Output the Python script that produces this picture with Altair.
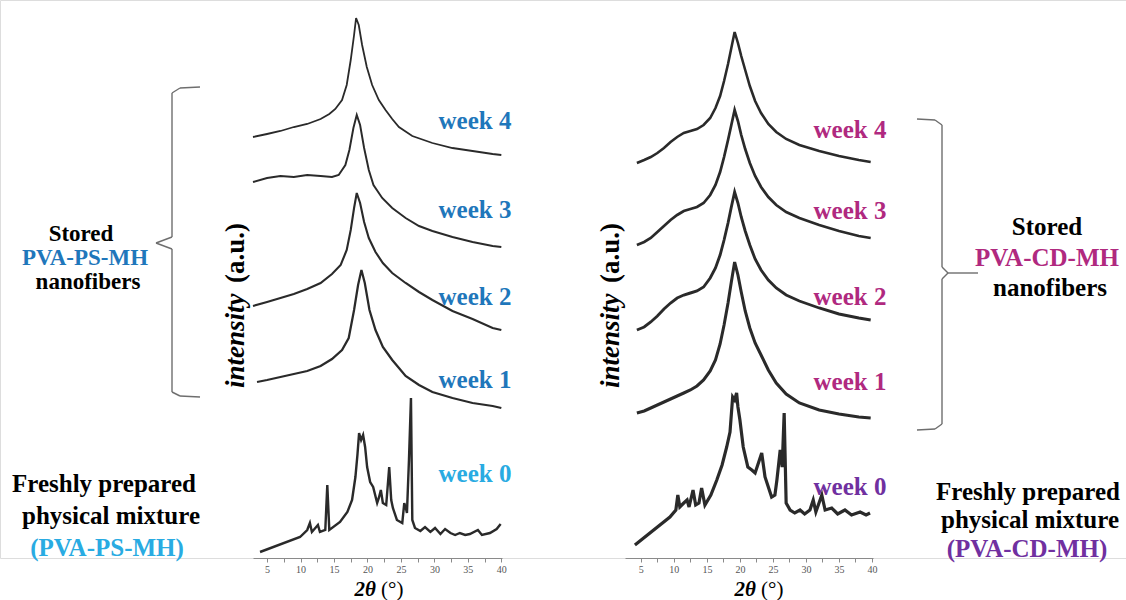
import altair as alt
import pandas as pd

SERIF = "Liberation Serif"

# ---------------- data (2theta in degrees, stacked intensity in a.u.) ----------------
PS4_T = [2.9, 5, 7, 9, 11, 13, 14.3, 15.2, 16.2, 16.9, 17.5, 18.0, 18.3, 18.7, 19.2, 19.9, 20.7, 21.7, 22.7, 23.7, 24.7, 26.7, 29.7, 32.7, 35.7, 38.7, 40]
PS4_V = [421, 424, 427, 431, 434, 439, 444, 449, 458, 473, 498, 523, 540, 533, 513, 491, 473, 458, 448, 439, 431, 422, 415, 410, 407, 404, 403]

PS3_T = [2.9, 5, 7, 9, 11, 13, 14.7, 15.7, 16.7, 17.3, 17.9, 18.4, 18.9, 19.5, 20.2, 20.9, 22.2, 23.7, 25.7, 27.7, 29.7, 32.7, 35.7, 38.7, 40]
PS3_V = [376, 380, 382, 381, 383, 382, 381, 383, 393, 408, 430, 443, 433, 410, 388, 373, 360, 350, 340, 332, 327, 321, 316, 312, 311]

PS2_T = [2.9, 5, 7, 9, 11, 13, 14.7, 16, 16.9, 17.5, 18.0, 18.4, 18.9, 19.5, 20.2, 21.2, 22.3, 23.7, 25.7, 27.7, 29.7, 32.7, 35.7, 38.7, 40]
PS2_V = [252, 256, 260, 264, 269, 275, 284, 293, 308, 328, 350, 365, 355, 336, 320, 306, 295, 285, 275, 266, 258, 247, 239, 230, 228]

PS1_T = [3.5, 5, 7, 9, 11, 13, 14.7, 16.2, 17.2, 18.0, 18.6, 19.1, 19.6, 20.3, 21.2, 22.3, 23.7, 25.7, 27.7, 29.7, 32.7, 35.7, 38.7, 40]
PS1_V = [176, 178, 181, 184, 187, 192, 199, 208, 220, 248, 273, 288, 275, 248, 228, 211, 198, 182, 173, 166, 160, 155, 152, 150]

PS0_T = [3.95, 9.93, 11.0, 11.4, 11.7, 12.6, 12.9, 13.7, 14.0, 14.3, 15.9, 17.0, 17.7, 18.2, 18.5, 18.75, 19.05, 19.35, 19.65, 19.95,
         20.4, 20.85, 21.45, 21.7, 22.0, 22.3, 22.8, 23.25, 23.55, 23.8, 24.4, 25.2, 25.5, 25.8, 25.9, 26.2, 26.5, 26.7, 27.1,
         27.9, 28.6, 29.4, 30.1, 30.9, 31.6, 32.4, 33.1, 33.8, 34.6, 35.3, 36.5, 37.1, 38.3, 39.3, 39.9]
PS0_V = [6, 21, 28, 35, 26, 33, 26, 28, 73, 28, 36, 46, 58, 81, 103, 125, 118, 123, 111, 91,
         76, 71, 55, 60, 68, 55, 53, 91, 58, 50, 38, 35, 55, 48, 45, 98, 160, 38, 30,
         27, 31, 26, 30, 24, 29, 25, 23, 25, 23, 24, 28, 23, 25, 29, 34]

CD_T = [4.4, 5.5, 6.5, 7.5, 8.5, 9.5, 10.5, 11.5, 12.5, 13.5, 14.5, 15.5, 16.3, 17.0, 17.6, 18.2, 18.7, 19.2,
        19.7, 20.2, 20.8, 21.5, 22.3, 23.2, 24.3, 25.5, 27, 29, 32, 35, 38, 39.8]
CD4_V = [395, 398, 401, 405, 410, 416, 421, 425, 427, 429, 433, 440, 450, 462, 477, 494, 510, 526,
         515, 502, 488, 472, 457, 445, 434, 426, 419, 413, 407, 402, 398, 396]
CD3_V = [313, 316, 320, 326, 332, 338, 343, 347, 349, 351, 355, 363, 373, 386, 401, 418, 433, 448,
         437, 423, 409, 395, 382, 371, 361, 353, 346, 340, 333, 327, 322, 320]
CD2_V = [228, 231, 236, 242, 249, 255, 260, 263, 265, 267, 271, 280, 290, 303, 318, 335, 351, 366,
         355, 341, 327, 313, 299, 288, 278, 270, 263, 257, 250, 244, 240, 238]
CD1_V = [145, 147, 150, 153, 156, 159, 162, 165, 168, 172, 178, 187, 198, 214, 233, 255, 276, 296,
         283, 266, 247, 230, 215, 203, 188, 175, 164, 155, 148, 144, 141, 140]

CD0_T = [4.1, 9.4, 10.3, 10.6, 10.9, 11.5, 12.0, 12.3, 12.9, 13.3, 13.8, 14.2, 14.7, 15.6, 16.5, 17.3, 18.0, 18.5, 18.9, 19.2,
         19.5, 19.7, 20.0, 20.5, 21.2, 21.8, 22.3, 23.3, 23.8, 24.8, 25.3, 25.6, 26.1, 26.4, 26.7, 27.0, 27.6, 28.3, 29.1,
         29.8, 30.6, 31.1, 31.5, 32.4, 32.9, 33.9, 34.8, 35.9, 36.9, 38.2, 39.1, 39.7]
CD0_V = [13, 41, 48, 63, 51, 55, 58, 51, 68, 53, 55, 70, 53, 63, 78, 93, 111, 126, 161, 158,
         165, 151, 138, 111, 91, 88, 85, 105, 81, 61, 63, 78, 108, 91, 145, 55, 48, 45, 48,
         44, 48, 58, 46, 63, 48, 50, 44, 48, 43, 46, 43, 45]

PS_CURVES = {"PS week 4": (PS4_T, PS4_V), "PS week 3": (PS3_T, PS3_V), "PS week 2": (PS2_T, PS2_V),
             "PS week 1": (PS1_T, PS1_V), "PS week 0": (PS0_T, PS0_V)}
CD_CURVES = {"CD week 4": (CD_T, CD4_V), "CD week 3": (CD_T, CD3_V), "CD week 2": (CD_T, CD2_V),
             "CD week 1": (CD_T, CD1_V), "CD week 0": (CD0_T, CD0_V)}

TICKS = [5, 7.5, 10, 12.5, 15, 17.5, 20, 22.5, 25, 27.5, 30, 32.5, 35, 37.5, 40]


def to_df(curves):
    rows = []
    for name, (t, v) in curves.items():
        for a, b in zip(t, v):
            rows.append({"series": name, "theta": a, "intensity": b})
    return pd.DataFrame(rows)


ps_df = to_df(PS_CURVES)
cd_df = to_df(CD_CURVES)

# ---------------- styles ----------------
BLUE = "#1f77bb"
CYAN = "#29abe2"
MAGENTA = "#b0297f"
PURPLE = "#7030a0"
LINE = "#2a2a2a"

series_order = list(PS_CURVES) + list(CD_CURVES)
width_range = [1.8, 3.2, 1.8, 1.8, 1.2, 1.6, 1.6, 1.6, 1.6, 1.3]
sw_scale = alt.Scale(domain=series_order, range=width_range)

yscale = alt.Scale(domain=[0, 558], nice=False, zero=False)


def x_axis():
    return alt.Axis(orient="bottom", values=TICKS, labelExpr="datum.value % 5 === 0 ? datum.label : ''",
                    grid=False, domainColor="#8a8a8a", tickColor="#8a8a8a", tickSize=4, title=None,
                    labelFont=SERIF, labelFontSize=10, labelColor="#555555", labelPadding=2, labelFlush=False)


def panel(df, dom, rng):
    return alt.Chart(df).mark_line(color=LINE).encode(
        x=alt.X("theta:Q", scale=alt.Scale(domain=dom, range=rng, nice=False, zero=False), axis=x_axis()),
        y=alt.Y("intensity:Q", scale=yscale, axis=None),
        detail="series:N",
        strokeWidth=alt.StrokeWidth("series:N", scale=sw_scale, legend=None),
    )


left = panel(ps_df, [2.9, 40.1], [253, 502])
right = panel(cd_df, [2.6, 40.15], [625, 873])

one = pd.DataFrame({"k": [0]})


def txt(s, x, y, color="black", size=25, style="normal", weight="bold", angle=0, align="center"):
    return alt.Chart(one).mark_text(text=s, font=SERIF, fontSize=size, fontWeight=weight, fontStyle=style,
                                    color=color, angle=angle, align=align, baseline="middle").encode(
        x=alt.value(x), y=alt.value(y))


def seg(x1, y1, x2, y2):
    return alt.Chart(one).mark_rule(color="#6e6e6e", strokeWidth=1.4).encode(
        x=alt.value(x1), y=alt.value(y1), x2=alt.value(x2), y2=alt.value(y2))


annotations = [
    # week labels, left
    txt("week 4", 475, 121, BLUE), txt("week 3", 475, 210, BLUE), txt("week 2", 475, 297, BLUE),
    txt("week 1", 475, 380, BLUE), txt("week 0", 475, 474, CYAN),
    # week labels, right
    txt("week 4", 850, 130, MAGENTA), txt("week 3", 850, 211, MAGENTA), txt("week 2", 850, 297, MAGENTA),
    txt("week 1", 850, 382, MAGENTA), txt("week 0", 850, 487, PURPLE),
    # left side descriptions
    txt("Stored", 81, 234, size=23), txt("PVA-PS-MH", 85, 258, BLUE, size=23), txt("nanofibers", 88, 282, size=23),
    txt("Freshly prepared", 104, 484), txt("physical mixture", 111, 516), txt("(PVA-PS-MH)", 107, 548, CYAN),
    # right side descriptions
    txt("Stored", 1047, 227), txt("PVA-CD-MH", 1047, 258, MAGENTA), txt("nanofibers", 1050, 288),
    txt("Freshly prepared", 1028, 492), txt("physical mixture", 1030, 520), txt("(PVA-CD-MH)", 1027, 549, PURPLE),
    # y titles (rotated)
    txt("intensity", 236, 388, size=27, style="italic", angle=270, align="left"),
    txt("(a.u.)", 236, 283, size=27, angle=270, align="left"),
    txt("intensity", 611, 388, size=27, style="italic", angle=270, align="left"),
    txt("(a.u.)", 611, 283, size=27, angle=270, align="left"),
    # x titles
    txt("2θ", 376, 590, size=21, style="italic", align="right"),
    txt("(°)", 381, 590, size=21, weight="normal", align="left"),
    txt("2θ", 756, 590, size=21, style="italic", align="right"),
    txt("(°)", 761, 590, size=21, weight="normal", align="left"),
    # left brace
    seg(200, 87, 180, 88), seg(180, 88, 172, 93), seg(172, 93, 172, 237), seg(172, 237, 156, 243),
    seg(156, 243, 172, 249), seg(172, 249, 172, 392), seg(172, 392, 180, 396), seg(180, 396, 200, 397),
    # right brace
    seg(917, 119, 935, 120), seg(935, 120, 942, 125), seg(942, 125, 942, 267), seg(942, 267, 948, 273),
    seg(948, 273, 978, 273), seg(948, 273, 942, 279), seg(942, 279, 942, 424), seg(942, 424, 935, 429),
    seg(935, 429, 917, 430),
]

chart = alt.layer(left, right, *annotations).resolve_scale(x="independent").properties(
    width=1126, height=558,
    autosize=alt.AutoSizeParams(type="none"),
    padding={"left": 0, "top": 0, "right": 0, "bottom": 42},
).configure_view(stroke=None).configure(background="white")

chart.save("out.html", embed_options={"renderer": "svg", "actions": False})
